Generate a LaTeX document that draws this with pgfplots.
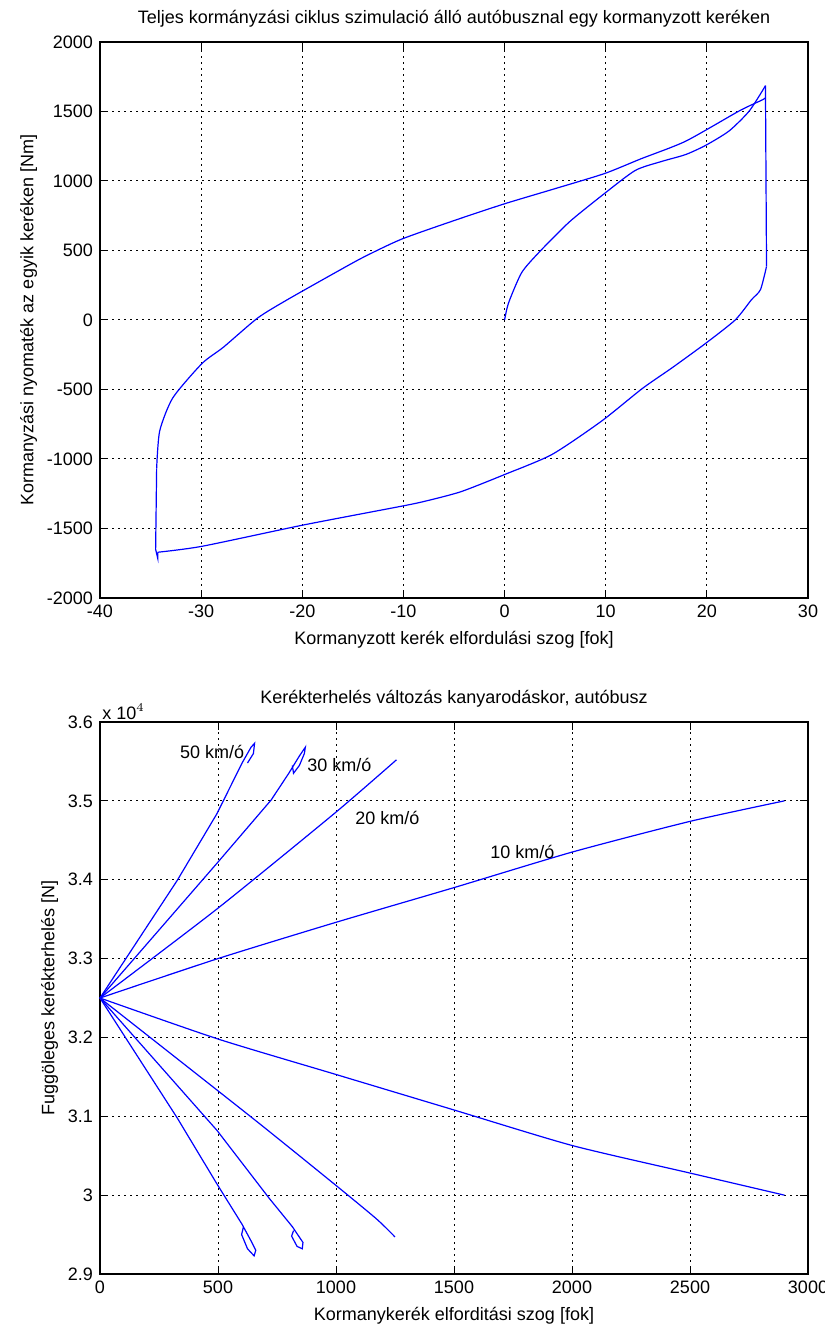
\documentclass[border=0pt]{standalone}
\usepackage{pgfplots}
\pgfplotsset{compat=1.18}
\usepackage{fontspec}
\setmainfont{Liberation Sans}

\pgfplotsset{
  mlab/.style={
    scale only axis,
    axis line style={black, line width=0.6pt},
    tick style={black, line width=0.5pt},
    tick align=inside,
    major tick length=4pt,
    grid=major,
    major grid style={black, line width=0.5pt, dash pattern=on 1pt off 2pt},
    tick label style={font=\fontsize{9}{10}\selectfont},
    label style={font=\fontsize{9}{10}\selectfont},
    title style={font=\fontsize{9}{10}\selectfont, yshift=-2pt},
    /pgf/number format/assume math mode=true,
    /pgf/number format/set thousands separator={},
  },
  crv/.style={blue, line width=0.6pt, mark=none},
  scrv/.style={crv, smooth, tension=0.4},
}

\begin{document}
\begin{tikzpicture}
% --- felso abra: nyomatek - elfordulas
\begin{axis}[mlab,
  at={(0pt,338pt)}, anchor=south west,
  width=354pt, height=278pt,
  xmin=-40, xmax=30, ymin=-2000, ymax=2000,
  xtick={-40,-30,...,30}, ytick={-2000,-1500,...,2000},
  title={Teljes kormányzási ciklus  szimulació  álló autóbusznal egy kormanyzott keréken},
  xlabel={Kormanyzott kerék elfordulási szog [fok]},
  ylabel={Kormanyzási nyomaték az egyik keréken [Nm]},
  ylabel style={yshift=-2pt},
]
% felfuto ag (0,0)-tol
\addplot[scrv] coordinates {
  (0,0) (0.4,124) (1.7,342) (3.5,494) (6.4,705) (9.6,894) (12.9,1075)
  (15.5,1140) (17.9,1190) (19.9,1257) (22.2,1360) (24.2,1504) (25.8,1686)
};
% jobb oldali fuggoleges szakasz
\addplot[crv] coordinates {
  (25.8,1686) (25.8,1600) (25.9,385)
};
% visszatero also ag
\addplot[scrv] coordinates {
  (25.9,385) (25.3,218) (24.4,145) (22.8,0) (19.9,-167)
  (16.6,-342) (13.6,-494) (9.6,-727) (4.7,-967) (0,-1112) (-4.3,-1235)
  (-7.7,-1301) (-10,-1337) (-19.9,-1475) (-29.9,-1628) (-34.3,-1671)
};
% bal oldali fuggoleges szakasz
\addplot[crv] coordinates {
  (-34.3,-1671) (-34.3,-1712) (-34.5,-1650) (-34.4,-1068)
};
% felso ag
\addplot[scrv] coordinates {
  (-34.4,-1068) (-34.1,-799) (-32.8,-560)
  (-29.9,-312) (-27.8,-196) (-24.4,15) (-21.5,145) (-17,330) (-14,450)
  (-10.2,581) (-5,715) (0,836) (5,945) (9.9,1054) (13.5,1160) (17.9,1286)
  (23.2,1504) (25.5,1584) (25.8,1600)
};
\end{axis}

% --- also abra: kerekterheles
\begin{axis}[mlab,
  at={(0pt,0pt)}, anchor=south west,
  width=354pt, height=276pt,
  xmin=0, xmax=3000, ymin=2.9, ymax=3.6,
  xtick={0,500,...,3000}, ytick={2.9,3,3.1,3.2,3.3,3.4,3.5,3.6},
  yticklabels={2.9,3,3.1,3.2,3.3,3.4,3.5,3.6},
  title={Kerékterhelés változás kanyarodáskor, autóbusz},
  xlabel={Kormanykerék elforditási szog [fok]},
  ylabel={Fuggöleges kerékterhelés [N]},
  ylabel style={yshift=-2pt},
  clip=false,
]
% 10 km/h
\addplot[scrv] coordinates {
  (0,3.25) (500,3.30) (1000,3.346) (1500,3.39)
  (2000,3.435) (2500,3.474) (2900,3.50)
};
\addplot[scrv] coordinates {
  (0,3.25) (500,3.198) (1000,3.153) (1500,3.108)
  (2000,3.063) (2500,3.028) (2900,3.0)
};
% 20 km/h
\addplot[scrv] coordinates {
  (0,3.25) (496,3.363) (993,3.484) (1256,3.552)
};
\addplot[scrv] coordinates {
  (0,3.25) (645,3.098) (993,3.014) (1171,2.97) (1250,2.947)
};
% 30 km/h
\addplot[crv] coordinates {
  (0,3.25) (496,3.421) (725,3.501) (800,3.535) (845,3.557)
  (870,3.568) (866,3.560) (845,3.545) (820,3.535) (815,3.545)
};
\addplot[crv] coordinates {
  (0,3.25) (496,3.082) (717,2.996) (815,2.96) (860,2.94)
  (857,2.932) (835,2.935) (812,2.948) (820,2.955)
};
% 50 km/h
\addplot[crv] coordinates {
  (0,3.25) (327,3.399) (496,3.484) (602,3.548) (640,3.568)
  (655,3.573) (650,3.560) (625,3.548)
};
\addplot[crv] coordinates {
  (0,3.25) (327,3.098) (496,3.014) (602,2.963)
  (640,2.942) (660,2.930) (653,2.923) (625,2.932) (600,2.950) (608,2.960)
};
\node[font=\fontsize{9}{10}\selectfont] at (axis cs:475,3.562) {50 km/ó};
\node[font=\fontsize{9}{10}\selectfont] at (axis cs:1014,3.545) {30 km/ó};
\node[font=\fontsize{9}{10}\selectfont] at (axis cs:1218,3.478) {20 km/ó};
\node[font=\fontsize{9}{10}\selectfont] at (axis cs:1790,3.435) {10 km/ó};
\node[font=\fontsize{9}{10}\selectfont, anchor=south west, inner sep=1pt]
  at (rel axis cs:0,1) {x 10$^{4}$};
\end{axis}

\pgfresetboundingbox
\path (-50pt,-31pt) rectangle (362pt,637pt);
\end{tikzpicture}
\end{document}
